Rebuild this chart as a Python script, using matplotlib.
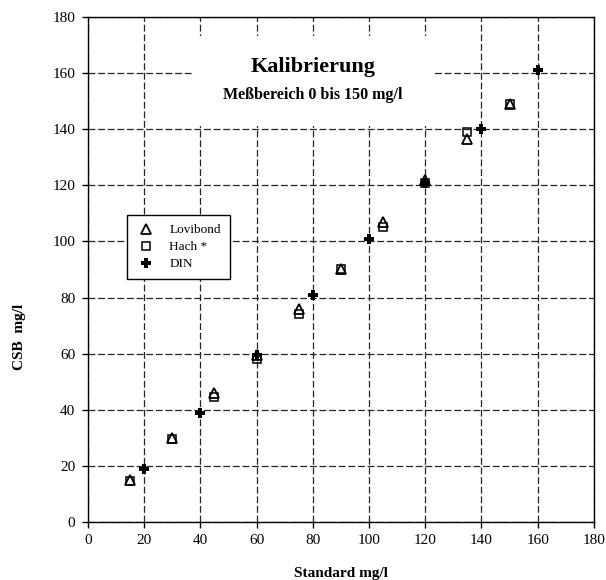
import matplotlib.pyplot as plt
from matplotlib.patches import Rectangle

plt.rcParams['font.family'] = ['Liberation Serif', 'DejaVu Serif']

# Kalibrierungsdaten
std_lov = [15, 30, 45, 60, 75, 90, 105, 120, 135, 150]
lovibond = [15, 30, 46, 59.5, 76, 90, 107, 122, 136.5, 149]
hach = [14.5, 29.5, 44.5, 58, 74, 90, 105, 121, 139, 149]
std_din = [20, 40, 60, 80, 100, 120, 140, 160]
din = [19, 39, 59.5, 81, 101, 121, 140, 161]

ticks = list(range(0, 181, 20))

fig = plt.figure(figsize=(6.06, 5.8), dpi=100)
ax = fig.add_axes([0.1452, 0.1, 0.8348, 0.8707])

ax.set_xlim(0, 180)
ax.set_ylim(0, 180)
ax.set_xticks(ticks)
ax.set_yticks(ticks)
ax.tick_params(direction='out', length=4, width=1, labelsize=11, colors='black', pad=5)
ax.grid(True, color='0.15', linestyle=(0, (5.5, 2.2)), linewidth=0.9)
ax.set_axisbelow(True)
for s in ax.spines.values():
    s.set_linewidth(1)
    s.set_color('black')

# weisser Kasten hinter dem Titel
ax.add_patch(Rectangle((37.4, 141), 86, 32.2, facecolor='white', edgecolor='none', zorder=1))
ax.text(80, 162.3, 'Kalibrierung', ha='center', va='center', fontsize=16, fontweight='bold', zorder=3)
ax.text(80, 152.3, 'Meßbereich 0 bis 150 mg/l', ha='center', va='center', fontsize=11.5, fontweight='bold', zorder=3)

ax.plot(std_lov, lovibond, linestyle='none', marker='^', markersize=7, mfc='none', mec='black', mew=1.3, label='Lovibond', zorder=4)
ax.plot(std_lov, hach, linestyle='none', marker='s', markersize=6, mfc='none', mec='black', mew=1.1, label='Hach *', zorder=4)
ax.plot(std_din, din, linestyle='none', marker='P', markersize=6.5, color='black', mew=0, label='DIN', zorder=5)

leg = ax.legend(loc='upper left', bbox_to_anchor=(0.077, 0.608), fontsize=9.5, frameon=True, fancybox=False,
                edgecolor='black', framealpha=1, labelspacing=0.35, handletextpad=1.0, borderpad=0.7,
                handlelength=1.5, borderaxespad=0)
leg.get_frame().set_linewidth(1)

ax.set_xlabel('Standard mg/l', fontsize=11, fontweight='bold', labelpad=14)
fig.text(0.032, 0.42, 'CSB  mg/l', rotation=90, ha='center', va='center', fontsize=11, fontweight='bold')

fig.savefig('out.png', dpi=100)
